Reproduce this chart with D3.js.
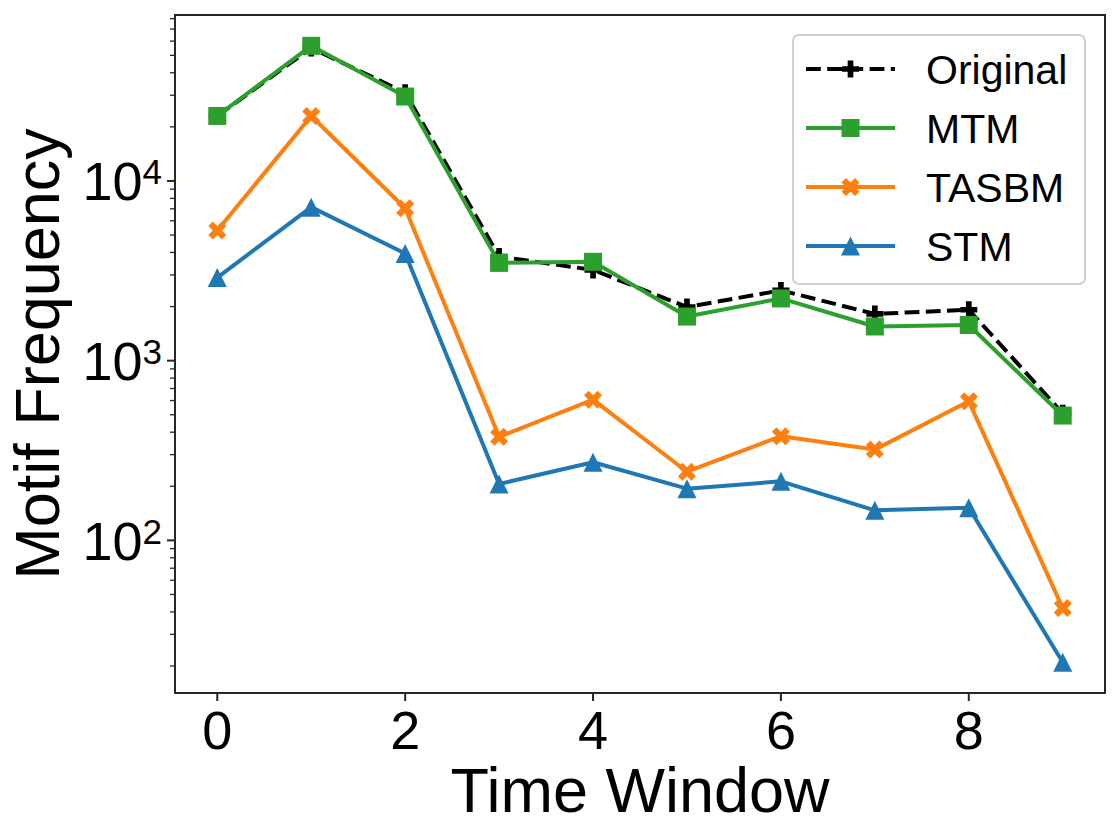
<!DOCTYPE html>
<html>
<head>
<meta charset="utf-8">
<script src="https://cdn.jsdelivr.net/npm/d3@7"></script>
<style>
  html, body { margin: 0; padding: 0; background: #fff; }
  svg { display: block; font-family: "Liberation Sans", Arial, Helvetica, sans-serif; }
</style>
</head>
<body>
<svg id="chart" width="1120" height="837"></svg>
<script>
// ---- data ----
const timeWindows = [0, 1, 2, 3, 4, 5, 6, 7, 8, 9];
const original = [23000, 55000, 31000, 3800, 3200, 1990, 2460, 1820, 1920, 510];
const mtm      = [23000, 56500, 29500, 3500, 3550, 1760, 2220, 1550, 1580, 495];
const tasbm    = [5300, 23000, 7050, 377, 607, 241, 380, 320, 594, 42];
const stm      = [2900, 7150, 3950, 206, 272, 194, 213, 147, 152, 21];
const xTickValues = [0, 2, 4, 6, 8];
const yTickExponents = [2, 3, 4];
const seriesNames = ["Original", "MTM", "TASBM", "STM"];

const series = [
  { name: seriesNames[0], values: original, color: "#000000", dash: "14.8,6.4", marker: "plus" },
  { name: seriesNames[1], values: mtm,      color: "#2ca02c", dash: null, marker: "square" },
  { name: seriesNames[2], values: tasbm,    color: "#ff7f0e", dash: null, marker: "x" },
  { name: seriesNames[3], values: stm,      color: "#1f77b4", dash: null, marker: "triangle" }
];

// ---- layout ----
const W = 1120, H = 837;
const m = { left: 175, top: 15, right: 15, bottom: 144 };
const pw = W - m.left - m.right, ph = H - m.top - m.bottom;

const svg = d3.select("#chart");

// x scale with 5% margins like matplotlib
const xMin = d3.min(timeWindows), xMax = d3.max(timeWindows);
const xPad = (xMax - xMin) * 0.05;
const x = d3.scaleLinear().domain([xMin - xPad, xMax + xPad]).range([m.left, m.left + pw]);

// log y scale with 5% margins in log space
const allVals = series.flatMap(s => s.values);
const lmin = Math.log10(d3.min(allVals)), lmax = Math.log10(d3.max(allVals));
const lpad = (lmax - lmin) * 0.05;
const y = d3.scaleLog().domain([Math.pow(10, lmin - lpad), Math.pow(10, lmax + lpad)]).range([m.top + ph, m.top]);

// ---- markers (matplotlib-like shapes, unit coords scaled by size) ----
const plusShape = [[-1,-3],[1,-3],[1,-1],[3,-1],[3,1],[1,1],[1,3],[-1,3],[-1,1],[-3,1],[-3,-1],[-1,-1]].map(p => [p[0]/6, p[1]/6]);
const xShape = [[-1,-2],[0,-1],[1,-2],[2,-1],[1,0],[2,1],[1,2],[0,1],[-1,2],[-2,1],[-1,0],[-2,-1]].map(p => [p[0]/4, p[1]/4]);
function markerPath(type, s) {
  const h = s / 2;
  if (type === "square") return `M${-h},${-h}H${h}V${h}H${-h}Z`;
  if (type === "triangle") return `M0,${-h}L${h},${h}L${-h},${h}Z`;
  const shape = type === "plus" ? plusShape : xShape;
  return "M" + shape.map(p => (p[0] * s).toFixed(2) + "," + (p[1] * s).toFixed(2)).join("L") + "Z";
}
const markerSize = { square: 18, triangle: 19, plus: 17, x: 18 };

// ---- clip ----
svg.append("defs").append("clipPath").attr("id", "clip")
  .append("rect").attr("x", m.left).attr("y", m.top).attr("width", pw).attr("height", ph);

// ---- series ----
const plot = svg.append("g").attr("clip-path", "url(#clip)");
const line = d3.line().x((d, i) => x(timeWindows[i])).y(d => y(d));
series.forEach(s => {
  const g = plot.append("g");
  g.append("path")
    .attr("d", line(s.values))
    .attr("fill", "none")
    .attr("stroke", s.color)
    .attr("stroke-width", 4)
    .attr("stroke-linejoin", "round")
    .attr("stroke-dasharray", s.dash);
  g.selectAll("path.mk").data(s.values).enter().append("path")
    .attr("class", "mk")
    .attr("d", markerPath(s.marker, markerSize[s.marker]))
    .attr("transform", (d, i) => `translate(${x(timeWindows[i])},${y(d)})`)
    .attr("fill", s.color);
});

// ---- axes ----
const axisColor = "#262626";
svg.append("rect").attr("x", m.left).attr("y", m.top).attr("width", pw).attr("height", ph)
  .attr("fill", "none").attr("stroke", axisColor).attr("stroke-width", 2);

// x ticks
const xg = svg.append("g");
xTickValues.forEach(v => {
  xg.append("line").attr("x1", x(v)).attr("x2", x(v)).attr("y1", m.top + ph).attr("y2", m.top + ph + 8)
    .attr("stroke", axisColor).attr("stroke-width", 2);
  xg.append("text").attr("x", x(v)).attr("y", m.top + ph + 56)
    .attr("text-anchor", "middle").attr("font-size", 54).attr("fill", "#000").text(v);
});

// y major ticks
const yg = svg.append("g");
const [d0, d1] = y.domain();
yTickExponents.forEach(e => {
  const v = Math.pow(10, e);
  const yy = y(v);
  yg.append("line").attr("x1", m.left - 8).attr("x2", m.left).attr("y1", yy).attr("y2", yy)
    .attr("stroke", axisColor).attr("stroke-width", 2);
  const t = yg.append("text").attr("x", m.left - 13).attr("y", yy + 19.5)
    .attr("text-anchor", "end").attr("font-size", 54).attr("fill", "#000");
  t.append("tspan").text("10");
  t.append("tspan").attr("font-size", 35).attr("dy", -16).text(e);
});
// y minor ticks
for (let e = Math.floor(Math.log10(d0)); e <= Math.ceil(Math.log10(d1)); e++) {
  for (let k = 2; k <= 9; k++) {
    const v = k * Math.pow(10, e);
    if (v < d0 || v > d1) continue;
    yg.append("line").attr("x1", m.left - 5).attr("x2", m.left).attr("y1", y(v)).attr("y2", y(v))
      .attr("stroke", axisColor).attr("stroke-width", 1.3);
  }
}

// axis labels
svg.append("text").attr("x", m.left + pw / 2).attr("y", 812)
  .attr("text-anchor", "middle").attr("font-size", 63).attr("fill", "#000").text("Time Window");
svg.append("text").attr("transform", `translate(59,${m.top + ph / 2}) rotate(-90)`)
  .attr("text-anchor", "middle").attr("font-size", 63).attr("fill", "#000").text("Motif Frequency");

// ---- legend ----
const lg = svg.append("g");
lg.append("rect").attr("x", 793).attr("y", 35).attr("width", 292).attr("height", 249)
  .attr("rx", 6).attr("fill", "#fff").attr("fill-opacity", 0.8)
  .attr("stroke", "#d0d0d0").attr("stroke-width", 2);
series.forEach((s, i) => {
  const cy = 69 + i * 59;
  lg.append("line").attr("x1", 806).attr("x2", 895).attr("y1", cy).attr("y2", cy)
    .attr("stroke", s.color).attr("stroke-width", 4).attr("stroke-dasharray", s.dash);
  lg.append("path").attr("d", markerPath(s.marker, markerSize[s.marker]))
    .attr("transform", `translate(850.5,${cy})`).attr("fill", s.color);
  lg.append("text").attr("x", 926).attr("y", cy + 15).attr("font-size", 41).attr("fill", "#000").text(s.name);
});
</script>
</body>
</html>
